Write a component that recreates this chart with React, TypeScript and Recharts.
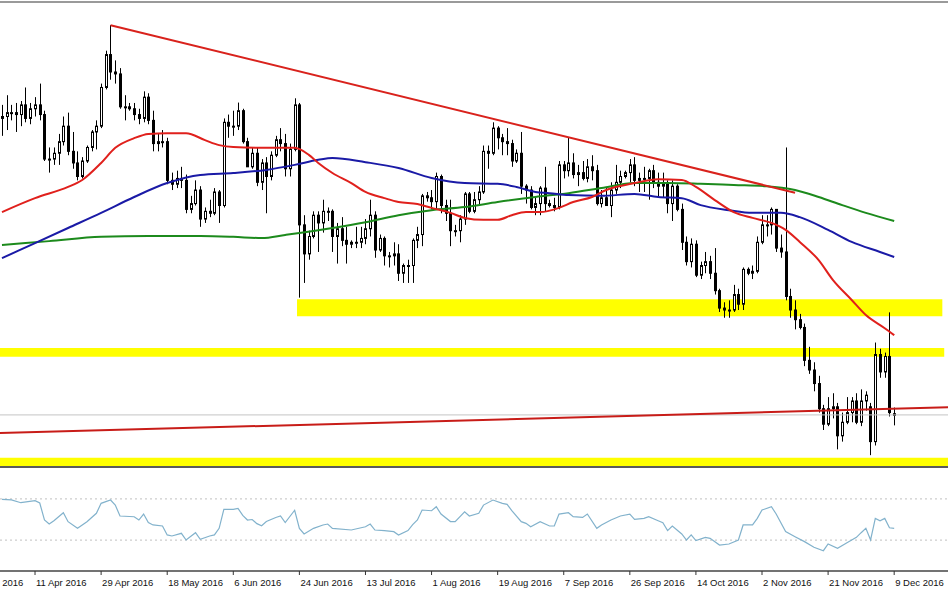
import { Bar, ComposedChart, Line, ReferenceArea, ReferenceLine, XAxis, YAxis } from "recharts";

const W = 948;
// bar index axis: bar 0 sits at the left edge, empty chart shift on the right
const X_DOMAIN: [number, number] = [-0.42, 200.4];
const PRICE_DOMAIN: [number, number] = [1.0477, 1.1681];

// EUR/USD daily candles: [open, high, low, close]
const OHLC: [number, number, number, number][] = [
  [1.1375, 1.141, 1.133, 1.138], [1.138, 1.1435, 1.1345, 1.139], [1.139, 1.141, 1.137, 1.139],
  [1.139, 1.1415, 1.134, 1.1385], [1.1385, 1.142, 1.1355, 1.141], [1.141, 1.1455, 1.1365, 1.1375],
  [1.1375, 1.1415, 1.136, 1.14], [1.14, 1.143, 1.138, 1.141], [1.141, 1.1465, 1.137, 1.1385],
  [1.1385, 1.1395, 1.1265, 1.127], [1.127, 1.13, 1.1235, 1.127], [1.127, 1.13, 1.1255, 1.1285],
  [1.1285, 1.1335, 1.1255, 1.1315], [1.1315, 1.138, 1.1305, 1.1355], [1.1355, 1.139, 1.128, 1.129],
  [1.129, 1.134, 1.1245, 1.126], [1.126, 1.129, 1.1215, 1.1225], [1.1225, 1.1275, 1.122, 1.1265],
  [1.1265, 1.1305, 1.126, 1.13], [1.13, 1.1345, 1.129, 1.134], [1.134, 1.137, 1.1295, 1.1355],
  [1.1355, 1.1465, 1.135, 1.1455], [1.1455, 1.155, 1.145, 1.154], [1.154, 1.1616, 1.1475, 1.1495],
  [1.1495, 1.1525, 1.1465, 1.149], [1.149, 1.1505, 1.14, 1.1405], [1.1405, 1.1435, 1.137, 1.1405],
  [1.1405, 1.1415, 1.1395, 1.14], [1.14, 1.1415, 1.137, 1.1385], [1.1385, 1.14, 1.136, 1.1375],
  [1.1375, 1.1445, 1.1365, 1.143], [1.143, 1.144, 1.136, 1.137], [1.137, 1.1395, 1.129, 1.131],
  [1.131, 1.1335, 1.129, 1.1315], [1.1315, 1.1345, 1.13, 1.1315], [1.1315, 1.1325, 1.1205, 1.1215],
  [1.1215, 1.1235, 1.119, 1.1205], [1.1205, 1.124, 1.1195, 1.122], [1.122, 1.125, 1.1195, 1.1215],
  [1.1215, 1.123, 1.113, 1.114], [1.114, 1.1175, 1.113, 1.1155], [1.1155, 1.1215, 1.115, 1.119],
  [1.119, 1.12, 1.1095, 1.1115], [1.1115, 1.1145, 1.1105, 1.1135], [1.1135, 1.1165, 1.112, 1.113],
  [1.113, 1.1195, 1.1125, 1.1185], [1.1185, 1.119, 1.1105, 1.115], [1.115, 1.1375, 1.1145, 1.1365],
  [1.1365, 1.1385, 1.1325, 1.1355], [1.1355, 1.1395, 1.133, 1.1355], [1.1355, 1.1416, 1.1345, 1.1395],
  [1.1395, 1.14, 1.131, 1.1315], [1.1315, 1.1325, 1.125, 1.125], [1.125, 1.13, 1.1245, 1.1285],
  [1.1285, 1.13, 1.12, 1.121], [1.121, 1.127, 1.119, 1.126], [1.126, 1.1275, 1.113, 1.1225],
  [1.1225, 1.129, 1.1215, 1.128], [1.128, 1.133, 1.1275, 1.132], [1.132, 1.135, 1.129, 1.131],
  [1.131, 1.1335, 1.1225, 1.1245], [1.1245, 1.131, 1.1225, 1.1295], [1.1295, 1.1427, 1.129, 1.141],
  [1.141, 1.1415, 1.0912, 1.11], [1.11, 1.1125, 1.095, 1.1025], [1.1025, 1.1085, 1.101, 1.107],
  [1.107, 1.1135, 1.1065, 1.1125], [1.1125, 1.1135, 1.103, 1.1105], [1.1105, 1.1165, 1.108, 1.1135],
  [1.1135, 1.1145, 1.111, 1.1135], [1.1135, 1.114, 1.103, 1.107], [1.107, 1.1105, 1.1, 1.109],
  [1.109, 1.112, 1.1045, 1.106], [1.106, 1.1095, 1.1, 1.105], [1.105, 1.106, 1.104, 1.1055],
  [1.1055, 1.1095, 1.104, 1.1055], [1.1055, 1.1095, 1.104, 1.1065], [1.1065, 1.1115, 1.105, 1.109],
  [1.109, 1.1165, 1.107, 1.1125], [1.1125, 1.1135, 1.1015, 1.1035], [1.1035, 1.1075, 1.103, 1.1065],
  [1.1065, 1.107, 1.0995, 1.102], [1.102, 1.103, 1.099, 1.102], [1.102, 1.1055, 1.0995, 1.1025],
  [1.1025, 1.105, 1.0955, 1.0975], [1.0975, 1.1, 1.095, 1.0995], [1.0995, 1.101, 1.095, 1.0995],
  [1.0995, 1.1065, 1.095, 1.106], [1.106, 1.1095, 1.104, 1.1075], [1.1075, 1.118, 1.1045, 1.1175],
  [1.1175, 1.1185, 1.116, 1.117], [1.117, 1.119, 1.114, 1.116], [1.116, 1.1235, 1.114, 1.1225],
  [1.1225, 1.123, 1.113, 1.115], [1.115, 1.1165, 1.111, 1.113], [1.113, 1.1165, 1.1045, 1.1085],
  [1.1085, 1.11, 1.107, 1.1085], [1.1085, 1.1125, 1.1055, 1.1115], [1.1115, 1.1185, 1.11, 1.118],
  [1.118, 1.1185, 1.113, 1.1135], [1.1135, 1.1185, 1.113, 1.1165], [1.1165, 1.12, 1.115, 1.1185],
  [1.1185, 1.1305, 1.118, 1.129], [1.129, 1.1305, 1.1245, 1.1285], [1.1285, 1.1365, 1.128, 1.135],
  [1.135, 1.1355, 1.1295, 1.1325], [1.1325, 1.1335, 1.128, 1.1315], [1.1315, 1.135, 1.128, 1.131],
  [1.131, 1.132, 1.125, 1.1265], [1.1265, 1.1295, 1.126, 1.1285], [1.1285, 1.134, 1.118, 1.12],
  [1.12, 1.1205, 1.1155, 1.119], [1.119, 1.12, 1.114, 1.1145], [1.1145, 1.117, 1.1125, 1.1155],
  [1.1155, 1.12, 1.1125, 1.1195], [1.1195, 1.125, 1.1135, 1.1155], [1.1155, 1.1165, 1.1145, 1.115],
  [1.115, 1.117, 1.1135, 1.1145], [1.1145, 1.1265, 1.114, 1.1255], [1.1255, 1.1265, 1.122, 1.124],
  [1.124, 1.1327, 1.1225, 1.126], [1.126, 1.1285, 1.122, 1.123], [1.123, 1.1255, 1.12, 1.1235],
  [1.1235, 1.1265, 1.1215, 1.122], [1.122, 1.127, 1.121, 1.125], [1.125, 1.128, 1.1215, 1.124],
  [1.124, 1.1255, 1.115, 1.1155], [1.1155, 1.119, 1.1145, 1.117], [1.117, 1.1195, 1.115, 1.115],
  [1.115, 1.121, 1.112, 1.119], [1.119, 1.1255, 1.118, 1.121], [1.121, 1.124, 1.1195, 1.1225],
  [1.1225, 1.124, 1.122, 1.1235], [1.1235, 1.127, 1.121, 1.1255], [1.1255, 1.1275, 1.12, 1.1215],
  [1.1215, 1.1235, 1.1185, 1.122], [1.122, 1.125, 1.1185, 1.122], [1.122, 1.1245, 1.1165, 1.124],
  [1.124, 1.1255, 1.1195, 1.121], [1.121, 1.1235, 1.117, 1.12], [1.12, 1.1235, 1.117, 1.1205],
  [1.1205, 1.1215, 1.113, 1.1155], [1.1155, 1.1215, 1.111, 1.12], [1.12, 1.1205, 1.1135, 1.114],
  [1.114, 1.1155, 1.1035, 1.1055], [1.1055, 1.107, 1.0995, 1.1005], [1.1005, 1.1065, 1.099, 1.105],
  [1.105, 1.106, 1.0965, 1.097], [1.097, 1.1005, 1.096, 1.0995], [1.0995, 1.103, 1.0975, 1.1005],
  [1.1005, 1.102, 1.096, 1.0975], [1.0975, 1.104, 1.092, 1.093], [1.093, 1.0935, 1.0875, 1.0885],
  [1.0885, 1.09, 1.086, 1.088], [1.088, 1.0905, 1.086, 1.088], [1.088, 1.0945, 1.0875, 1.092],
  [1.092, 1.0935, 1.088, 1.0895], [1.0895, 1.099, 1.088, 1.0985], [1.0985, 1.099, 1.097, 1.0975],
  [1.0975, 1.0995, 1.096, 1.098], [1.098, 1.107, 1.0975, 1.1055], [1.1055, 1.1125, 1.105, 1.11],
  [1.11, 1.1125, 1.107, 1.11], [1.11, 1.1145, 1.1075, 1.114], [1.114, 1.114, 1.103, 1.104],
  [1.104, 1.1075, 1.1015, 1.103], [1.103, 1.13, 1.0905, 1.0915], [1.0915, 1.0935, 1.086, 1.088],
  [1.088, 1.0905, 1.083, 1.0855], [1.0855, 1.087, 1.083, 1.0835], [1.0835, 1.0845, 1.0735, 1.075],
  [1.075, 1.0785, 1.0715, 1.0725], [1.0725, 1.0745, 1.067, 1.069], [1.069, 1.071, 1.0615, 1.0625],
  [1.0625, 1.0635, 1.057, 1.0585], [1.0585, 1.0655, 1.058, 1.0625], [1.0625, 1.0665, 1.06, 1.063],
  [1.063, 1.064, 1.052, 1.0555], [1.0555, 1.0615, 1.054, 1.059], [1.059, 1.0655, 1.0585, 1.0615],
  [1.0615, 1.0655, 1.059, 1.0645], [1.0645, 1.0665, 1.0585, 1.059], [1.059, 1.0675, 1.058, 1.0645],
  [1.0645, 1.067, 1.062, 1.066], [1.063, 1.064, 1.0505, 1.054], [1.054, 1.0796, 1.053, 1.0765],
  [1.0765, 1.078, 1.0705, 1.072], [1.072, 1.077, 1.0705, 1.076], [1.076, 1.0874, 1.0605, 1.0615],
  [1.0612, 1.0628, 1.0582, 1.0608],
];

// moving averages, [bar index, price]
const MA_RED: [number, number][] = [
  [0, 1.1133], [7, 1.1169], [14, 1.1198], [17, 1.1216], [21, 1.126], [24, 1.1299], [28, 1.1324],
  [31, 1.1335], [35, 1.1337], [39, 1.1337], [43, 1.1319], [46, 1.1306], [49, 1.1301], [56, 1.1299],
  [62, 1.1299], [65, 1.1281], [67, 1.126], [70, 1.1234], [74, 1.1208], [77, 1.1185], [81, 1.1169],
  [84, 1.1159], [88, 1.1154], [91, 1.1144], [95, 1.1131], [98, 1.1118], [102, 1.1113], [105, 1.1113],
  [108, 1.1125], [111, 1.1133], [114, 1.1133], [118, 1.1144], [121, 1.1159], [125, 1.1172],
  [128, 1.119], [134, 1.1208], [139, 1.1218], [144, 1.1216], [147, 1.1198], [151, 1.1164],
  [155, 1.1133], [159, 1.1118], [163, 1.1105], [166, 1.1087], [169, 1.1056], [173, 1.1009],
  [176, 1.0958], [180, 1.0906], [183, 1.0867], [187, 1.0833], [189, 1.0815],
];
const MA_BLUE: [number, number][] = [
  [0, 1.1014], [7, 1.1053], [14, 1.1092], [21, 1.1131], [28, 1.1172], [35, 1.1208], [42, 1.1229],
  [49, 1.1234], [56, 1.1242], [62, 1.1255], [67, 1.1268], [70, 1.1273], [77, 1.1262], [84, 1.1247],
  [91, 1.1221], [98, 1.1208], [105, 1.1206], [109, 1.1198], [113, 1.1185], [116, 1.1182],
  [120, 1.1177], [127, 1.1175], [134, 1.118], [139, 1.1172], [144, 1.1169], [148, 1.1151],
  [154, 1.1138], [159, 1.1131], [165, 1.1131], [169, 1.112], [175, 1.1087], [180, 1.1056],
  [186, 1.103], [189, 1.1017],
];
const MA_GREEN: [number, number][] = [
  [0, 1.1048], [10, 1.1058], [21, 1.1069], [31, 1.1071], [42, 1.1071], [49, 1.1069], [55, 1.1066],
  [60, 1.1074], [63, 1.1079], [70, 1.1092], [77, 1.1107], [84, 1.1125], [91, 1.1138], [98, 1.1146],
  [105, 1.1159], [113, 1.1172], [120, 1.1182], [127, 1.1195], [134, 1.1208], [141, 1.1208],
  [148, 1.1206], [155, 1.1203], [162, 1.12], [168, 1.119], [173, 1.1172], [178, 1.1151],
  [183, 1.1131], [189, 1.111],
];

// hand-drawn objects
const TREND_DOWN: [number, number][] = [[23, 1.1616], [168, 1.1183]];
const TREND_UP: [number, number][] = [[-0.42, 1.0562], [200.4, 1.0629]];
const ZONE_FROM = [62.5, -0.42, -0.42];
const ZONE_TO = [199.2, 199.6, 200.4];
const ZONE_LO = [1.0864, 1.0759, 1.0477];
const ZONE_HI = [1.0908, 1.0782, 1.0498];
const BID = 1.0609;

// RSI sub-window, [bar index, value]
const RSI: [number, number][] = [
  [0, 69.6], [2, 69], [4, 66.3], [7, 68.3], [8, 66], [9, 49.5], [10, 45.6], [11, 48.8], [13, 56.6],
  [14, 47.9], [16, 41.4], [18, 47.9], [20, 56], [21, 65.7], [23, 68.9], [24, 64], [25, 53.4],
  [28, 52.7], [29, 49.5], [30, 55.3], [31, 47], [32, 44.7], [34, 43.7], [35, 35], [36, 34],
  [38, 36.6], [39, 30.1], [41, 37.2], [42, 30.8], [44, 34], [45, 35], [46, 41.4], [47, 59.9],
  [49, 59.9], [50, 60.8], [51, 54], [52, 49.5], [53, 50], [54, 46], [55, 44], [56, 48], [58, 52],
  [59, 53.4], [60, 47], [62, 59], [63, 41.4], [64, 36], [66, 41.4], [68, 44.7], [69, 45.6],
  [70, 41.4], [74, 39.8], [77, 43], [78, 45.6], [79, 39.8], [81, 39.2], [83, 38.2], [84, 35],
  [86, 39.2], [87, 45], [88, 49.5], [89, 59.2], [91, 58.5], [92, 62.4], [93, 55.3], [95, 48],
  [96, 48], [98, 57.5], [99, 53.4], [101, 56], [102, 64], [104, 68.9], [106, 65.7], [107, 64.7],
  [108, 58.6], [110, 47.9], [111, 46.3], [112, 43], [114, 47.9], [116, 43.7], [117, 43.7],
  [118, 55.3], [120, 56.6], [121, 52.7], [123, 52], [124, 55.3], [126, 41.4], [127, 44.7],
  [129, 49.5], [131, 53.4], [133, 55.3], [134, 50.2], [136, 51.1], [137, 52.7], [139, 48.8],
  [140, 46.9], [141, 39.2], [142, 43.7], [144, 36], [145, 30.1], [146, 35], [147, 29.5],
  [149, 32.7], [150, 31.7], [152, 25.2], [154, 26.2], [156, 30.1], [157, 44.7], [159, 44.7],
  [160, 51.1], [161, 59.2], [163, 62.4], [164, 55.3], [166, 38.2], [168, 33.3], [170, 28.5],
  [172, 23], [174, 19.7], [175, 26.2], [177, 22], [179, 27.5], [181, 32.7], [182, 37.2],
  [183, 41.4], [184, 30.1], [185, 51.1], [186, 48.8], [187, 51.1], [188, 42], [189, 41.4],
];
const RSI_LEVELS = [70, 30];

const TICK_IDX = [-7, 7, 21, 35, 49, 63, 77, 91, 105, 119, 133, 147, 161, 175, 189];
const TICK_LABELS = [
  "22 Mar 2016", "11 Apr 2016", "29 Apr 2016", "18 May 2016", "6 Jun 2016", "24 Jun 2016",
  "13 Jul 2016", "1 Aug 2016", "19 Aug 2016", "7 Sep 2016", "26 Sep 2016", "14 Oct 2016",
  "2 Nov 2016", "21 Nov 2016", "9 Dec 2016",
];

const pts = (arr: [number, number][]) => arr.map(([i, v]) => ({ i, v }));
const candles = OHLC.map(([o, h, l, c], i) => ({ i, o, h, l, c }));

function Candle(props: any) {
  const { x, y, width, height, payload } = props;
  if (x == null || y == null) return null;
  const { o, h, l, c } = payload;
  const cx = Math.round(x + width / 2) + 0.5;
  const span = h - l;
  const py = (v: number) => (span > 0 ? y + ((h - v) / span) * height : y);
  const top = py(Math.max(o, c));
  const bot = py(Math.min(o, c));
  const up = c >= o;
  return (
    <g>
      <line x1={cx} x2={cx} y1={y} y2={y + height} stroke="#000" strokeWidth={1} />
      <rect
        x={cx - 1}
        y={top}
        width={2}
        height={Math.max(bot - top, 1)}
        fill={up ? "#fff" : "#000"}
        stroke="#000"
        strokeWidth={1}
      />
    </g>
  );
}

function DateTick(props: any) {
  const { x, y, payload } = props;
  const k = TICK_IDX.indexOf(payload.value);
  return (
    <text x={x + 1} y={y + 9} textAnchor="start" fontSize={9.5} fontFamily="Liberation Sans, Arial, sans-serif" fill="#111">
      {TICK_LABELS[k]}
    </text>
  );
}

export default function App() {
  const line = (data: [number, number][], color: string, width = 2, type: "monotone" | "linear" = "monotone") => (
    <Line
      data={pts(data)}
      dataKey="v"
      type={type}
      stroke={color}
      strokeWidth={width}
      dot={false}
      activeDot={false}
      isAnimationActive={false}
    />
  );

  return (
    <div style={{ position: "relative", width: W, height: 593, background: "#fff", overflow: "hidden" }}>
      <style>{"body{margin:0}"}</style>

      <div style={{ position: "absolute", top: 0, left: 0 }}>
        <ComposedChart width={W} height={466} data={candles} margin={{ top: 0, right: 0, bottom: 0, left: 0 }}>
          <XAxis type="number" dataKey="i" domain={X_DOMAIN} allowDataOverflow hide />
          <YAxis type="number" domain={PRICE_DOMAIN} allowDataOverflow hide />
          {ZONE_LO.map((lo, k) => (
            <ReferenceArea
              key={k}
              x1={ZONE_FROM[k]}
              x2={ZONE_TO[k]}
              y1={lo}
              y2={ZONE_HI[k]}
              fill="#ffff00"
              fillOpacity={1}
              stroke="none"
              ifOverflow="hidden"
            />
          ))}
          <ReferenceLine y={BID} stroke="#c4c4c4" strokeWidth={1} />
          <Bar
            dataKey={(d: any) => [d.l, d.h]}
            barSize={3}
            shape={(p: any) => <Candle {...p} />}
            isAnimationActive={false}
          />
          {line(MA_GREEN, "#1c8a1c")}
          {line(MA_BLUE, "#1a1aa6")}
          {line(MA_RED, "#e0201c")}
          {line(TREND_DOWN, "#d9221c", 2, "linear")}
          {line(TREND_UP, "#c81c18", 2, "linear")}
        </ComposedChart>
      </div>

      <div style={{ position: "absolute", top: 467, left: 0 }}>
        <ComposedChart width={W} height={126} data={pts(RSI)} margin={{ top: 1, right: 0, bottom: 0, left: 0 }}>
          <XAxis
            type="number"
            dataKey="i"
            domain={X_DOMAIN}
            allowDataOverflow
            ticks={TICK_IDX}
            interval={0}
            tick={<DateTick />}
            tickSize={4}
            tickLine={{ stroke: "#333" }}
            axisLine={{ stroke: "#444", strokeWidth: 1.5 }}
            height={22}
          />
          <YAxis type="number" domain={[0, 100]} hide />
          {RSI_LEVELS.map((v) => (
            <ReferenceLine key={v} y={v} stroke="#c0c0c0" strokeDasharray="2 3" />
          ))}
          <Line
            dataKey="v"
            type="linear"
            stroke="#82b2cc"
            strokeWidth={1.2}
            dot={false}
            activeDot={false}
            isAnimationActive={false}
          />
        </ComposedChart>
      </div>

      <div style={{ position: "absolute", top: 1, left: 0, width: W, height: 2, background: "#9a9a9a" }} />
      <div style={{ position: "absolute", top: 466, left: 0, width: W, height: 2, background: "#5a5a5a" }} />
    </div>
  );
}
